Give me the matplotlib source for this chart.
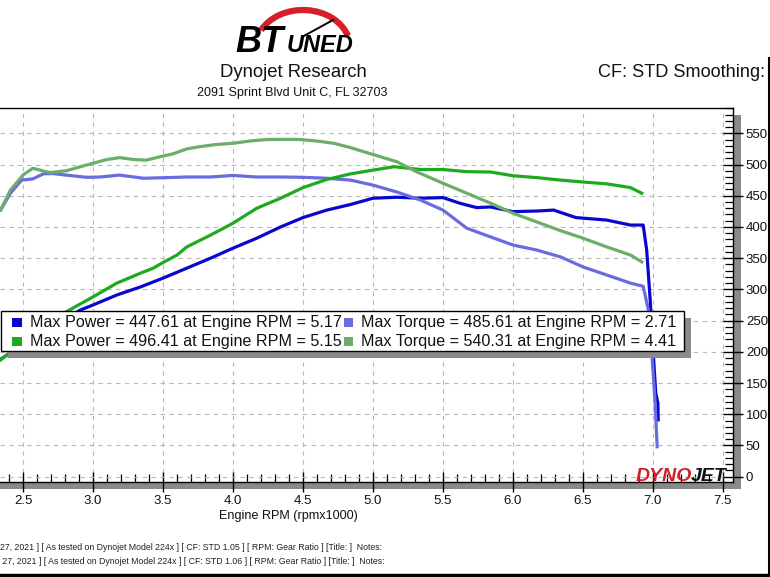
import matplotlib
matplotlib.use("Agg")
import matplotlib.pyplot as plt
from matplotlib.patches import Rectangle, Arc
from matplotlib.lines import Line2D
from matplotlib.ticker import MultipleLocator

plt.rcParams['font.family'] = ['Liberation Sans', 'DejaVu Sans']

# ---------------- data ----------------
power1_rpm = [2.34, 2.40, 2.91, 3.00, 3.17, 3.34, 3.50, 3.67, 3.84, 4.00, 4.17, 4.34,
              4.50, 4.67, 4.84, 5.00, 5.17, 5.34, 5.50, 5.62, 5.74, 5.84, 6.00, 6.17,
              6.29, 6.45, 6.67, 6.84, 6.93, 6.955, 6.98, 7.00, 7.02, 7.035, 7.037]
power1_val = [188, 197, 267, 275, 291, 304, 318, 334, 350, 366, 382, 400,
              415, 427, 436, 446, 447.6, 446, 447, 438, 431, 432, 424.5, 425.5,
              427, 415, 411, 403, 403, 363, 283, 203, 134, 118, 91]

torque1_rpm = [2.34, 2.41, 2.49, 2.57, 2.645, 2.71, 2.81, 2.955, 3.05, 3.19, 3.36, 3.53,
               3.67, 3.84, 4.00, 4.17, 4.34, 4.50, 4.67, 4.84, 5.00, 5.17, 5.34, 5.50,
               5.67, 5.84, 6.00, 6.17, 6.34, 6.50, 6.67, 6.84, 6.93, 6.967, 6.99, 7.014, 7.03]
torque1_val = [427, 454, 475, 477, 485, 485.6, 483, 479.5, 480, 483, 478, 479,
               480, 480, 482.5, 480, 480, 479.5, 478, 475, 467, 456, 443, 427,
               398, 384, 371, 363, 352, 336, 323, 310, 305, 267, 203, 123, 48]

power2_rpm = [2.34, 2.40, 2.80, 2.84, 3.00, 3.17, 3.34, 3.43, 3.50, 3.60, 3.67, 3.84,
              4.00, 4.17, 4.34, 4.50, 4.67, 4.84, 5.00, 5.15, 5.34, 5.50, 5.67, 5.84,
              6.00, 6.17, 6.34, 6.50, 6.67, 6.84, 6.92]
power2_val = [187, 198, 263, 268, 288, 310, 326, 334, 343, 355, 368, 387,
              406, 430, 446, 463, 476, 485, 491, 496.4, 492, 492, 488.5, 488,
              482, 479, 475, 472, 469, 463, 454]

torque2_rpm = [2.34, 2.41, 2.50, 2.57, 2.69, 2.81, 2.91, 3.00, 3.10, 3.19, 3.29, 3.38,
               3.48, 3.57, 3.67, 3.76, 3.88, 4.00, 4.12, 4.24, 4.41, 4.48, 4.60, 4.72,
               4.84, 5.00, 5.17, 5.31, 5.50, 5.67, 5.84, 6.00, 6.17, 6.34, 6.50, 6.67,
               6.84, 6.92]
torque2_val = [427, 459, 483, 494, 487, 490, 496.5, 502, 508, 511, 508, 507,
               512.5, 517, 525, 528.5, 532, 534, 537.6, 540, 540.3, 540, 537.6, 534,
               527, 516, 504.5, 488.5, 470, 454, 438, 422, 408, 394, 382, 368,
               355, 344]

legend_labels = ["Max Power = 447.61 at Engine RPM = 5.17",
                 "Max Torque = 485.61 at Engine RPM = 2.71",
                 "Max Power = 496.41 at Engine RPM = 5.15",
                 "Max Torque = 540.31 at Engine RPM = 4.41"]

x_ticks = [2.5, 3.0, 3.5, 4.0, 4.5, 5.0, 5.5, 6.0, 6.5, 7.0, 7.5]
y_ticks = [0, 50, 100, 150, 200, 250, 300, 350, 400, 450, 500, 550]

notes = ["27, 2021 ] [ As tested on Dynojet Model 224x ] [ CF: STD 1.05 ] [ RPM: Gear Ratio ] [Title: ]  Notes:",
         " 27, 2021 ] [ As tested on Dynojet Model 224x ] [ CF: STD 1.06 ] [ RPM: Gear Ratio ] [Title: ]  Notes:"]

c_pow1 = '#0808CC'
c_tq1 = '#6B6BE0'
c_pow2 = '#1EAA1E'
c_tq2 = '#6AAE6A'

# ---------------- figure ----------------
W, H = 770, 577
fig = plt.figure(figsize=(W / 100, H / 100), dpi=100)
fig.patch.set_facecolor('white')

def fx(px):
    return px / W

def fy(py):
    return 1 - py / H

ax_left, ax_right, ax_top, ax_bot = 0, 732.7, 108, 481.7
ax = fig.add_axes([fx(ax_left), fy(ax_bot), fx(ax_right - ax_left), (ax_bot - ax_top) / H])
ax.set_zorder(2)

lw = 2.3
ax.plot(power1_rpm, power1_val, color=c_pow1, lw=lw, solid_joinstyle='round', zorder=3)
ax.plot(torque1_rpm, torque1_val, color=c_tq1, lw=lw, solid_joinstyle='round', zorder=3)
ax.plot(power2_rpm, power2_val, color=c_pow2, lw=lw, solid_joinstyle='round', zorder=4)
ax.plot(torque2_rpm, torque2_val, color=c_tq2, lw=lw, solid_joinstyle='round', zorder=4)

ax.set_xlim(2.3357, 7.5694)
ax.set_ylim(-8.0, 590.5)

ax.set_xticks(x_ticks)
ax.set_xticklabels([f"{v:.1f}" for v in x_ticks])
ax.set_yticks(y_ticks)
ax.set_yticklabels([str(v) for v in y_ticks])
ax.xaxis.set_minor_locator(MultipleLocator(0.1))
ax.yaxis.set_minor_locator(MultipleLocator(10))
ax.yaxis.tick_right()

ax.tick_params(axis='both', which='major', direction='inout', length=15, width=1.0,
               labelsize=9.5, color='black', labelcolor='#111111', pad=2)
ax.tick_params(axis='both', which='minor', direction='in', length=6, width=0.9, color='black')
ax.tick_params(axis='y', which='both', left=False, right=True)
ax.tick_params(axis='x', which='both', top=False, bottom=True)

ax.grid(which='major', linestyle=(0, (4, 4)), color='#b8b8b8', linewidth=0.8)
ax.set_axisbelow(True)

ax.spines['left'].set_visible(False)
for s in ['top', 'right', 'bottom']:
    ax.spines[s].set_color('black')
    ax.spines[s].set_linewidth(1.0)

# plot frame shadow
shade = '#8a8a8a'
fig.patches.append(Rectangle((fx(733), fy(489)), fx(7.5), (489 - 115) / H,
                             transform=fig.transFigure, facecolor=shade, edgecolor='none', zorder=1))
fig.patches.append(Rectangle((fx(0), fy(489)), fx(740), 7.3 / H,
                             transform=fig.transFigure, facecolor=shade, edgecolor='none', zorder=1))

# legend box
lx0, ly0, lx1, ly1 = 1, 311, 684, 351
fig.patches.append(Rectangle((fx(lx0 + 7), fy(ly1 + 7)), fx(lx1 - lx0), (ly1 - ly0) / H,
                             transform=fig.transFigure, facecolor=shade, edgecolor='none', zorder=6))
fig.patches.append(Rectangle((fx(lx0), fy(ly1)), fx(lx1 - lx0), (ly1 - ly0) / H,
                             transform=fig.transFigure, facecolor='white', edgecolor='black',
                             linewidth=1.0, zorder=7))
leg_colors = [c_pow1, c_tq1, c_pow2, c_tq2]
col_marker_x = [12.5, 343.5]
col_text_x = [30, 361]
row_y = [322, 341.5]
for i, (lab, col) in enumerate(zip(legend_labels, leg_colors)):
    r, c = divmod(i, 2)
    fig.patches.append(Rectangle((fx(col_marker_x[c]), fy(row_y[r] + 4.5)), fx(9), 9 / H,
                                 transform=fig.transFigure, facecolor=col, edgecolor='none', zorder=8))
    fig.text(fx(col_text_x[c]), fy(row_y[r]), lab, fontsize=11.6, color='#111111',
             ha='left', va='center', zorder=9)

# header texts
fig.text(fx(293), fy(72), "Dynojet Research", fontsize=13.3, ha='center', va='center', color='#111111')
fig.text(fx(292), fy(93), "2091 Sprint Blvd Unit C, FL 32703", fontsize=9.0, ha='center', va='center',
         color='#111111')
fig.text(fx(765), fy(72), "CF: STD Smoothing:", fontsize=13.1, ha='right', va='center', color='#111111')

# BTUNED logo
fig.patches.append(Arc((fx(303), fy(47)), fx(94), 74 / H, theta1=18, theta2=152,
                       transform=fig.transFigure, color='#d61f26', linewidth=4.5, zorder=3))
fig.lines.append(Line2D([fx(302), fx(333)], [fy(37), fy(20)], transform=fig.transFigure,
                        color='black', linewidth=1.4, zorder=4))
fig.text(fx(235), fy(52), "BT", fontsize=26, fontweight='bold', style='italic',
         ha='left', va='baseline', color='black', zorder=5)
fig.text(fx(287), fy(52), "UNED", fontsize=17, fontweight='bold', style='italic',
         ha='left', va='baseline', color='black', zorder=5)

# DYNOJET logo
fig.text(fx(636), fy(481), "DYNO", fontsize=14, fontweight='bold', style='italic',
         ha='left', va='baseline', color='#d41f2a', zorder=10)
fig.text(fx(691), fy(481), "JET", fontsize=14, fontweight='bold', style='italic',
         ha='left', va='baseline', color='#111111', zorder=10)

# x axis label
fig.text(fx(288), fy(516), "Engine RPM (rpmx1000)", fontsize=9.1, ha='center', va='center', color='#111111')

# notes
fig.text(fx(0), fy(547), notes[0], fontsize=6.3, ha='left', va='center', color='#222222')
fig.text(fx(0), fy(562), notes[1], fontsize=6.3, ha='left', va='center', color='#222222')

# page border lines
fig.lines.append(Line2D([fx(768.5), fx(768.5)], [fy(58), fy(577)], transform=fig.transFigure,
                        color='black', linewidth=2.2, zorder=10))
fig.lines.append(Line2D([fx(0), fx(770)], [fy(574.5), fy(574.5)], transform=fig.transFigure,
                        color='black', linewidth=2.5, zorder=10))

fig.savefig("out.png", dpi=100, facecolor='white')
